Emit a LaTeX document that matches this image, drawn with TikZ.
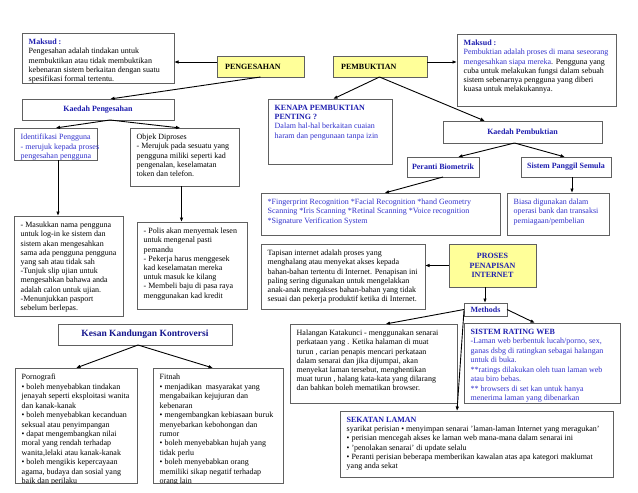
\documentclass[tikz,border=0pt]{standalone}
\usepackage{fontspec}
\setmainfont{Liberation Serif}
\usetikzlibrary{arrows.meta}
\definecolor{bgray}{RGB}{96,96,96}
\definecolor{yfill}{RGB}{255,255,153}
\definecolor{tblue}{RGB}{50,50,205}
\definecolor{hblue}{RGB}{30,30,175}
\definecolor{kblue}{RGB}{20,20,140}
\newcommand\fs{\fontsize{8}{9.2}\selectfont}
\newcommand\fsl{\fontsize{8}{9.45}\selectfont}
\newcommand\bx[6][]{\node[box,#1,minimum width=#5pt,minimum height=#6pt] (#2) at (#3,#4) {};}
\newcommand\tx[3][]{\node[txt,#1] (#2-t) at ([xshift=6.5pt,yshift=-6pt]#2.north west) {#3};}
\begin{document}
\begin{tikzpicture}[x=1pt,y=-1pt,
  box/.style={draw=bgray,line width=0.9pt,fill=white,inner sep=0pt,outer sep=0pt,anchor=north west},
  txt/.style={anchor=north west,inner sep=0pt,align=left,font=\fs,text=black},
  ttl/.style={inner sep=0pt,align=center,font=\fs\bfseries,text=hblue},
  arr/.style={-{Latex[length=4.5pt,width=3.6pt]},line width=0.9pt,black}]
\fill[white] (0,0) rectangle (638,493);
\useasboundingbox (0,0) rectangle (638,493);

% boxes
\bx{mL}{22}{33}{152}{50}
\bx[fill=yfill]{peng}{217}{56}{87}{21}
\bx[fill=yfill]{pemb}{333}{56}{94}{21}
\bx{mR}{457}{34}{159}{72}
\bx{kPeng}{22}{99}{152}{21}
\bx{kenapa}{268}{99}{124}{65}
\bx{kPemb}{443}{121}{159}{22}
\bx{ident}{14}{128}{83}{32}
\bx{objek}{130}{128}{109}{58}
\bx{peranti}{407}{157}{72}{20}
\bx{sistemP}{521}{157}{90}{20}
\bx{finger}{261}{193}{239}{42}
\bx{biasa}{507}{193}{102}{42}
\bx{masuk}{14}{216}{109}{100}
\bx{polis}{137}{222}{110}{87}
\bx{tapisan}{261}{244}{164}{65}
\bx[fill=yfill]{proses}{449}{244}{87}{43}
\bx{methods}{464}{303}{43}{13}
\bx{kesan}{58}{324}{174}{21}
\bx{halangan}{290}{324}{167}{79}
\bx{rating}{464}{323}{156}{80}
\bx{sekatan}{340}{411}{273}{66}
\bx{porno}{15}{368}{122}{115}
\bx{fitnah}{153}{368}{130}{115}

% texts
\tx{mL}{{\bfseries\color{hblue}Maksud :}\\Pengesahan adalah tindakan untuk\\membuktikan atau tidak membuktikan\\kebenaran sistem berkaitan dengan suatu\\spesifikasi formal tertentu.}
\node[ttl,text=black,anchor=west] (peng-t) at ([xshift=8pt]peng.west) {PENGESAHAN};
\node[ttl,text=black,anchor=west] (pemb-t) at ([xshift=8pt]pemb.west) {PEMBUKTIAN};
\tx{mR}{{\bfseries\color{hblue}Maksud :}\\{\color{tblue}Pembuktian adalah proses di mana seseorang}\\{\color{tblue}mengesahkan siapa mereka}. Pengguna yang\\cuba untuk melakukan fungsi dalam sebuah\\sistem sebenarnya pengguna yang diberi\\kuasa untuk melakukannya.}
\node[ttl] (kPeng-t) at (kPeng) {Kaedah Pengesahan};
\tx[text=tblue]{kenapa}{{\bfseries\color{hblue}KENAPA PEMBUKTIAN}\\{\bfseries\color{hblue}PENTING ?}\\Dalam hal-hal berkaitan cuaian\\haram dan pengunaan tanpa izin}
\node[ttl] (kPemb-t) at (kPemb) {Kaedah Pembuktian};
\tx[text=tblue]{ident}{Identifikasi Pengguna\\- merujuk kepada proses\\pengesahan pengguna}
\tx{objek}{Objek Diproses\\- Merujuk pada sesuatu yang\\pengguna miliki seperti kad\\pengenalan, keselamatan\\token dan telefon.}
\node[ttl] (peranti-t) at (peranti) {Peranti Biometrik};
\node[ttl] (sistemP-t) at (sistemP) {Sistem Panggil Semula};
\tx[text=tblue]{finger}{*Fingerprint Recognition *Facial Recognition *hand Geometry\\Scanning *Iris Scanning *Retinal Scanning *Voice recognition\\*Signature Verification System}
\tx[text=tblue]{biasa}{Biasa digunakan dalam\\operasi bank dan transaksi\\perniagaan/pembelian}
\tx{masuk}{- Masukkan nama pengguna\\untuk log-in ke sistem dan\\sistem akan mengesahkan\\sama ada pengguna pengguna\\yang sah atau tidak sah\\-Tunjuk slip ujian untuk\\mengesahkan bahawa anda\\adalah calon untuk ujian.\\-Menunjukkan pasport\\sebelum berlepas.}
\tx{polis}{- Polis akan menyemak lesen\\untuk mengenal pasti\\pemandu\\- Pekerja harus menggesek\\kad keselamatan mereka\\untuk masuk ke kilang\\- Membeli baju di pasa raya\\menggunakan kad kredit}
\tx{tapisan}{Tapisan internet adalah proses yang\\menghalang atau menyekat akses kepada\\bahan-bahan tertentu di Internet. Penapisan ini\\paling sering digunakan untuk mengelakkan\\anak-anak mengakses bahan-bahan yang tidak\\sesuai dan pekerja produktif ketika di Internet.}
\node[ttl] (proses-t) at (proses) {PROSES\\PENAPISAN\\INTERNET};
\node[ttl] (methods-t) at (methods) {Methods};
\node[ttl,font=\fontsize{9.5}{11}\selectfont\bfseries,text=kblue] (kesan-t) at (kesan) {Kesan Kandungan Kontroversi};
\tx{halangan}{Halangan Katakunci - menggunakan senarai\\perkataan yang . Ketika halaman di muat\\turun , carian penapis mencari perkataan\\dalam senarai dan jika dijumpai, akan\\menyekat laman tersebut, menghentikan\\muat turun , halang kata-kata yang dilarang\\dan bahkan boleh mematikan browser.}
\begin{scope}
\clip (rating.north west) rectangle (rating.south east);
\tx[text=tblue,font=\fsl]{rating}{{\bfseries\color{hblue}SISTEM RATING WEB}\\-Laman web berbentuk lucah/porno, sex,\\ganas dsbg di ratingkan sebagai halangan\\untuk di buka.\\**ratings dilakukan oleh tuan laman web\\atau biro bebas.\\** browsers di set kan untuk hanya\\menerima laman yang dibenarkan}
\end{scope}
\tx{sekatan}{{\bfseries\color{hblue}SEKATAN LAMAN}\\syarikat perisian • menyimpan senarai 'laman-laman Internet yang meragukan'\\• perisian mencegah akses ke laman web mana-mana dalam senarai ini\\• 'penolakan senarai' di update selalu\\• Peranti perisian beberapa memberikan kawalan atas apa kategori maklumat\\yang anda sekat}
\begin{scope}
\clip (porno.north west) rectangle (porno.south east);
\tx[font=\fsl]{porno}{Pornografi\\• boleh menyebabkan tindakan\\jenayah seperti eksploitasi wanita\\dan kanak-kanak\\• boleh menyebabkan kecanduan\\seksual atau penyimpangan\\• dapat mengembangkan nilai\\moral yang rendah terhadap\\wanita,lelaki atau kanak-kanak\\• boleh mengikis kepercayaan\\agama, budaya dan sosial yang\\baik dan perilaku}
\end{scope}
\begin{scope}
\clip (fitnah.north west) rectangle (fitnah.south east);
\tx[font=\fsl]{fitnah}{Fitnah\\• menjadikan\ \ masyarakat yang\\mengabaikan kejujuran dan\\kebenaran\\• mengembangkan kebiasaan buruk\\menyebarkan kebohongan dan\\rumor\\• boleh menyebabkan hujah yang\\tidak perlu\\• boleh menyebabkan orang\\memiliki sikap negatif terhadap\\orang lain}
\end{scope}

% connectors
\coordinate (a1) at ([yshift=4.5pt]peng.west);
\draw[arr] (a1) -- (a1 -| mL.east);
\draw[arr] (peng.south) -- ([xshift=12pt]kPeng.north);
\coordinate (a2) at ([yshift=4.5pt]pemb.east);
\draw[arr] (a2) -- (a2 -| mR.west);
\draw[arr] ([xshift=-0.5pt]pemb.south) -- ([xshift=3pt]kenapa.north);
\draw[arr] ([xshift=-0.5pt]pemb.south) -- ([xshift=42pt]kPemb.north west);
\draw[arr] ([xshift=12pt]kPeng.south) -- (ident.north);
\draw[arr] ([xshift=12pt]kPeng.south) -- ([xshift=-4pt]objek.north);
\coordinate (a3) at ([xshift=2.5pt]ident.south);
\draw[arr] (a3) -- (a3 |- masuk.north);
\coordinate (a4) at ([xshift=-3pt]objek.south);
\draw[arr] (a4) -- (a4 |- polis.north);
\draw[arr] ([xshift=-8pt]kPemb.south) -- ([xshift=15pt]peranti.north);
\draw[arr] ([xshift=-8pt]kPemb.south) -- ([xshift=-1pt]sistemP.north);
\draw[arr] (peranti.south) -- ([xshift=4pt]finger.north);
\coordinate (a5) at ([xshift=6pt]sistemP.south);
\draw[arr] (a5) -- (a5 |- biasa.north);
\draw[arr] (proses.west) -- (proses.west -| tapisan.east);
\coordinate (a6) at ([xshift=-7.5pt]proses.south);
\draw[arr] (a6) -- (a6 |- methods.north);
\draw[arr] (methods.west) -- ([xshift=12pt]halangan.north);
\draw[arr] ([yshift=-1pt]methods.west) -- ([xshift=117pt]sekatan.north west);
\draw[arr] (methods.east) -- ([xshift=-7pt]rating.north);
\draw[arr] ([xshift=-7pt]kesan.south) -- (porno.north);
\draw[arr] ([xshift=-7pt]kesan.south) -- ([xshift=-5pt]fitnah.north);
\end{tikzpicture}
\end{document}
